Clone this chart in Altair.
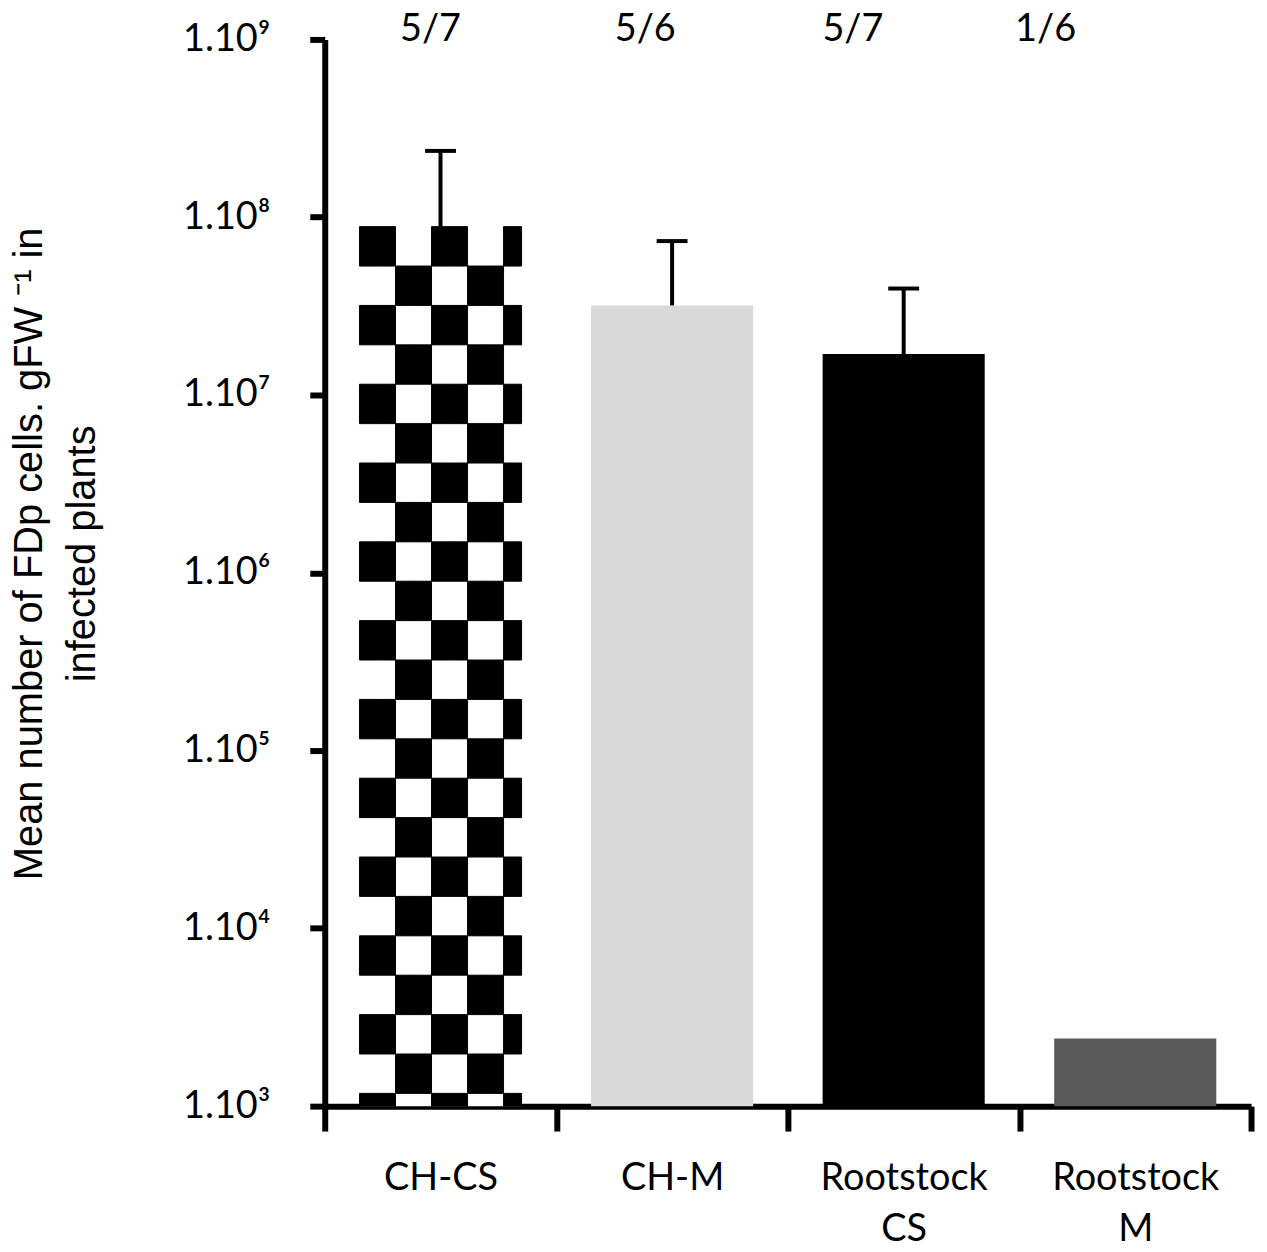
import json
import math
import altair as alt
import pandas as pd

# ---- data ----
categories = ["CH-CS", "CH-M", "Rootstock CS", "Rootstock M"]
means = [8.85e7, 3.19e7, 1.70e7, 2.40e3]
err_upper = [2.36e8, 7.34e7, 3.97e7, None]
ratios = ["5/7", "5/6", "5/7", "1/6"]
bar_colors = ["#ffffff", "#d9d9d9", "#000000", "#595959"]
y_tick_values = [1e3, 1e4, 1e5, 1e6, 1e7, 1e8, 1e9]
y_tick_labels = ["1.10³", "1.10⁴", "1.10⁵", "1.10⁶", "1.10⁷", "1.10⁸", "1.10⁹"]
y_title = ["Mean number of FDp cells. gFW ⁻¹ in", "infected plants"]

# ---- style constants ----
W, H = 930, 1071
LABEL_FONT = "Lato"
TITLE_FONT = "Liberation Sans"
BAR_BAND = 0.7
ratio_dx = [-10, -27, -51, -90]      # hand-placed labels in the original

bars = pd.DataFrame({"cat": categories, "value": means, "upper": err_upper,
                     "ratio": ratios})

# checkerboard fill of the first bar (pattern cells, 9 half-columns)
CHECK_STEP = 0.2216   # decades per checker row
N_SUB = 9
top_log = math.log10(means[0])
cells = []
k = 0
while True:
    hi = top_log - k * CHECK_STEP
    if hi <= 3.0:
        break
    lo = max(3.0, hi - CHECK_STEP)
    for sub in range(N_SUB):
        if ((sub // 2) + k) % 2 == 0:
            cells.append({"cat": categories[0], "sub": sub,
                          "y": 10 ** hi, "y2": 10 ** lo})
    k += 1
checker = pd.DataFrame(cells)

x_scale = alt.Scale(domain=categories, paddingInner=0, paddingOuter=0)
y_scale = alt.Scale(type="log", domain=[1e3, 1e9], nice=False)
# sub-bands span only the central BAR_BAND fraction of each category band:
# one empty slot on each side plus outer padding
sub_domain = list(range(-1, N_SUB + 1))
sub_outer = (N_SUB / BAR_BAND - len(sub_domain)) / 2

x_axis = alt.Axis(
    title=None, labelAngle=0, labelFont=LABEL_FONT, labelFontSize=38,
    labelColor="black", labelPadding=29, labelLineHeight=51,
    labelExpr="split(datum.label, ' ')",
    domainColor="black", domainWidth=6, tickColor="black", tickWidth=6,
    tickSize=25, tickBand="extent", grid=False,
)
y_axis = alt.Axis(
    values=y_tick_values,
    labelExpr=json.dumps(y_tick_labels, ensure_ascii=False)
    + "[round(log(datum.value)/LN10) - 3]",
    labelFont=LABEL_FONT, labelFontSize=38, labelColor="black",
    labelPadding=40, domainColor="black", domainWidth=6,
    tickColor="black", tickWidth=6, tickSize=15, grid=False,
    title=y_title, titleFont=TITLE_FONT, titleFontSize=40,
    titleFontWeight="normal", titleColor="black", titleX=-284, titleY=516,
    titleAlign="center", titleBaseline="alphabetic", titleLineHeight=53,
)

x_enc = alt.X("cat:N", scale=x_scale, axis=x_axis, sort=categories)

bar_layer = alt.Chart(bars).mark_bar(width=alt.RelativeBandSize(BAR_BAND)).encode(
    x=x_enc,
    y=alt.Y("value:Q", scale=y_scale, axis=y_axis),
    y2=alt.datum(1000),
    color=alt.Color("cat:N", scale=alt.Scale(domain=categories, range=bar_colors),
                    legend=None),
)

checker_layer = alt.Chart(checker).mark_bar(
    color="black", stroke="black", strokeWidth=1
).encode(
    x=x_enc,
    xOffset=alt.XOffset("sub:O", scale=alt.Scale(domain=sub_domain,
                                                 paddingInner=0,
                                                 paddingOuter=sub_outer)),
    y=alt.Y("y:Q", scale=y_scale),
    y2="y2:Q",
)

err = alt.Chart(bars).transform_filter("isValid(datum.upper)")
stem = err.mark_rule(color="black", strokeWidth=4).encode(
    x=x_enc, y=alt.Y("value:Q", scale=y_scale), y2="upper:Q")
cap = err.mark_tick(color="black", size=31, thickness=4, opacity=1).encode(
    x=x_enc, y=alt.Y("upper:Q", scale=y_scale))

text_layers = []
for c, dx in zip(categories, ratio_dx):
    text_layers.append(
        alt.Chart(bars).transform_filter(alt.datum.cat == c)
        .mark_text(font=LABEL_FONT, fontSize=38, color="black", dx=dx, dy=2,
                   baseline="alphabetic", align="center")
        .encode(x=x_enc, y=alt.datum(1e9), text="ratio:N")
    )

chart = alt.layer(bar_layer, checker_layer, stem, cap, *text_layers).properties(
    width=W, height=H,
    autosize=alt.AutoSizeParams(type="none"),
    padding={"left": 318, "top": 29, "right": 8, "bottom": 170},
    background="white",
).configure_view(stroke=None)

chart.save("out.html", embed_options={"renderer": "svg", "actions": False})
